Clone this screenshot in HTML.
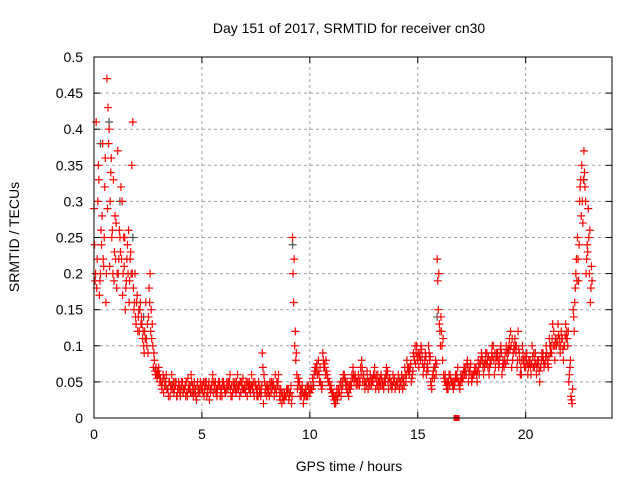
<!DOCTYPE html>
<html><head><meta charset="utf-8"><style>
body{margin:0;background:#fff}
svg text{font-family:"Liberation Sans",sans-serif;font-size:14px;fill:#000}
</style></head><body>
<svg id="chart" width="640" height="480" xmlns="http://www.w3.org/2000/svg">
<text x="349" y="33" text-anchor="middle">Day 151 of 2017, SRMTID for receiver cn30</text>
<text x="349" y="471" text-anchor="middle">GPS time / hours</text>
<text transform="translate(19,237) rotate(-90)" text-anchor="middle">SRMTID / TECUs</text>
<g id="grid"></g>
<g id="ticks"></g>
<g id="marks"></g>
<rect x="94" y="57" width="518" height="361" fill="none" stroke="#000" stroke-width="1"/>
</svg>
<script>
const xTicks=[0,5,10,15,20];
const yTicks=[0,0.05,0.1,0.15,0.2,0.25,0.3,0.35,0.4,0.45,0.5];
const yTickLabels=["0","0.05","0.1","0.15","0.2","0.25","0.3","0.35","0.4","0.45","0.5"];
const seriesA=[0.29,0.41,0.35,0.20,0.38,0.32,0.47,0.40,0.36,0.33,
0.22,0.37,0.25,0.30,0.21,0.19,0.26,0.23,0.41,0.20,
0.17,0.12,0.14,0.10,0.16,0.09,0.20,0.13,0.08,0.06,
0.07,0.05,0.06,0.045,0.04,0.05,0.06,0.035,0.05,0.04,
0.03,0.05,0.04,0.035,0.045,0.06,0.03,0.04,0.05,0.035,
0.04,0.03,0.05,0.045,0.035,0.06,0.04,0.03,0.05,0.04,
0.05,0.035,0.04,0.06,0.03,0.045,0.05,0.04,0.035,0.055,
0.04,0.03,0.05,0.06,0.035,0.045,0.03,0.04,0.09,0.05,
0.03,0.04,0.035,0.05,0.06,0.045,0.03,0.02,0.025,0.03,
0.04,0.035,0.25,0.10,0.06,0.045,0.03,0.02,0.04,0.03,
0.035,0.04,0.06,0.07,0.08,0.05,0.09,0.07,0.06,0.05,
0.04,0.03,0.02,0.03,0.045,0.05,0.06,0.04,0.03,0.05,
0.07,0.06,0.05,0.045,0.08,0.06,0.05,0.04,0.06,0.055,
0.07,0.05,0.04,0.06,0.045,0.05,0.065,0.055,0.04,0.05,
0.045,0.06,0.05,0.04,0.07,0.08,0.06,0.05,0.09,0.075,
0.08,0.09,0.085,0.07,0.06,0.1,0.05,0.06,0.07,0.22,
0.13,0.12,0.06,0.05,0.04,0.06,0.05,0.045,0.06,0.05,
0.06,0.055,0.07,0.08,0.065,0.05,0.06,0.07,0.08,0.075,
0.08,0.07,0.09,0.06,0.08,0.1,0.07,0.09,0.085,0.06,
0.07,0.1,0.09,0.12,0.08,0.11,0.07,0.09,0.06,0.08,
0.07,0.06,0.08,0.1,0.07,0.06,0.08,0.07,0.09,0.075,
0.08,0.11,0.09,0.12,0.1,0.13,0.09,0.11,0.1,0.12,
0.05,0.03,0.15,0.18,0.25,0.3,0.35,0.37,0.2,0.29,0.16];
const seriesB=[0.19,0.22,0.17,0.24,0.21,0.16,0.43,0.30,0.26,0.23,
0.18,0.22,0.32,0.20,0.15,0.24,0.19,0.35,0.15,0.13,
0.14,0.16,0.11,0.12,0.1,0.18,0.15,0.07,0.06,0.065,
0.05,0.04,0.055,0.06,0.03,0.045,0.04,0.05,0.03,0.045,
0.05,0.04,0.03,0.055,0.045,0.035,0.05,0.025,0.04,0.045,
0.035,0.05,0.04,0.025,0.045,0.05,0.035,0.045,0.03,0.05,
0.04,0.05,0.045,0.03,0.05,0.04,0.06,0.03,0.045,0.04,
0.05,0.045,0.035,0.04,0.05,0.03,0.045,0.035,0.02,0.04,
0.045,0.05,0.04,0.03,0.035,0.06,0.04,0.035,0.03,0.04,
0.03,0.02,0.16,0.08,0.05,0.03,0.045,0.035,0.03,0.04,
0.045,0.05,0.07,0.06,0.05,0.04,0.07,0.08,0.05,0.04,
0.03,0.02,0.04,0.035,0.03,0.06,0.05,0.035,0.045,0.06,
0.05,0.045,0.06,0.07,0.05,0.04,0.065,0.05,0.045,0.06,
0.04,0.06,0.055,0.045,0.05,0.07,0.04,0.045,0.06,0.04,
0.05,0.04,0.06,0.055,0.05,0.065,0.07,0.06,0.08,0.1,
0.07,0.1,0.06,0.09,0.075,0.08,0.04,0.07,0.06,0.15,
0.1,0.08,0.05,0.04,0.06,0.05,0.04,0.06,0.07,0.04,
0.05,0.07,0.06,0.05,0.075,0.06,0.07,0.05,0.06,0.09,
0.06,0.09,0.07,0.08,0.1,0.06,0.09,0.07,0.1,0.08,
0.09,0.08,0.11,0.07,0.1,0.09,0.12,0.06,0.1,0.07,
0.09,0.08,0.06,0.07,0.09,0.08,0.05,0.09,0.07,0.1,
0.07,0.09,0.13,0.08,0.11,0.1,0.12,0.08,0.13,0.1,
0.07,0.02,0.12,0.22,0.19,0.33,0.27,0.32,0.24,0.2,0.21];
const seriesC=[0.24,0.18,0.33,0.26,0.22,0.36,0.29,0.21,0.25,0.19,
0.27,0.2,0.23,0.17,0.25,0.22,0.16,0.2,0.18,0.14,
0.12,0.15,0.13,0.09,0.11,0.14,0.12,0.1,0.065,0.055,
0.06,0.045,0.035,0.05,0.04,0.03,0.045,0.04,0.03,0.05,
0.04,0.035,0.045,0.03,0.04,0.05,0.04,0.03,0.035,0.05,
0.045,0.04,0.03,0.05,0.04,0.035,0.05,0.04,0.045,0.03,
0.045,0.04,0.05,0.04,0.035,0.05,0.04,0.045,0.05,0.04,
0.035,0.05,0.04,0.045,0.03,0.04,0.05,0.03,0.07,0.035,
0.04,0.03,0.05,0.045,0.04,0.05,0.025,0.03,0.035,0.04,
0.025,0.045,0.2,0.12,0.04,0.05,0.04,0.03,0.035,0.045,
0.04,0.055,0.065,0.075,0.06,0.045,0.08,0.06,0.055,0.045,
0.035,0.025,0.03,0.04,0.05,0.045,0.055,0.05,0.04,0.045,
0.06,0.055,0.045,0.05,0.07,0.05,0.045,0.05,0.055,0.05,
0.055,0.045,0.05,0.055,0.04,0.06,0.05,0.05,0.045,0.055,
0.05,0.055,0.045,0.05,0.06,0.07,0.065,0.055,0.085,0.09,
0.09,0.08,0.075,0.08,0.07,0.09,0.045,0.065,0.08,0.19,
0.12,0.1,0.055,0.045,0.05,0.055,0.045,0.05,0.055,0.045,
0.055,0.065,0.065,0.07,0.07,0.055,0.065,0.06,0.07,0.08,
0.07,0.08,0.08,0.07,0.09,0.08,0.08,0.08,0.095,0.07,
0.08,0.09,0.1,0.1,0.09,0.1,0.08,0.08,0.08,0.075,
0.08,0.07,0.07,0.085,0.08,0.07,0.065,0.08,0.08,0.085,
0.075,0.1,0.11,0.1,0.1,0.115,0.1,0.095,0.115,0.11,
0.06,0.025,0.14,0.2,0.22,0.32,0.3,0.34,0.22,0.25,0.18];
const seriesD=[0.2,0.3,0.19,0.28,0.25,0.2,0.38,0.34,0.2,0.28,
0.2,0.26,0.22,0.25,0.18,0.2,0.22,0.2,0.16,0.16,
0.15,0.13,0.12,0.11,0.13,0.16,0.11,0.09,0.07,0.06,
0.055,0.05,0.045,0.04,0.05,0.04,0.05,0.045,0.04,0.035,
0.045,0.04,0.05,0.04,0.035,0.045,0.035,0.045,0.04,0.04,
0.05,0.045,0.035,0.04,0.05,0.045,0.04,0.05,0.04,0.045,
0.035,0.045,0.05,0.045,0.04,0.035,0.045,0.05,0.04,0.045,
0.045,0.04,0.045,0.05,0.045,0.04,0.035,0.045,0.06,0.045,
0.035,0.045,0.045,0.04,0.05,0.04,0.035,0.025,0.03,0.035,
0.035,0.03,0.22,0.09,0.055,0.04,0.035,0.03,0.045,0.035,
0.04,0.045,0.065,0.065,0.07,0.045,0.075,0.065,0.05,0.045,
0.035,0.03,0.025,0.035,0.04,0.055,0.045,0.045,0.04,0.055,
0.055,0.05,0.055,0.06,0.06,0.05,0.055,0.045,0.05,0.06,
0.06,0.05,0.045,0.05,0.055,0.06,0.055,0.05,0.05,0.045,
0.045,0.05,0.055,0.045,0.06,0.07,0.075,0.065,0.1,0.085,
0.085,0.095,0.07,0.085,0.065,0.085,0.055,0.055,0.075,0.2,
0.14,0.11,0.06,0.05,0.045,0.05,0.05,0.055,0.05,0.05,
0.06,0.06,0.075,0.06,0.06,0.06,0.065,0.065,0.075,0.085,
0.075,0.075,0.085,0.075,0.085,0.09,0.085,0.075,0.09,0.075,
0.075,0.095,0.095,0.11,0.095,0.1,0.095,0.07,0.09,0.085,
0.075,0.075,0.075,0.09,0.075,0.075,0.07,0.085,0.075,0.09,
0.085,0.1,0.1,0.11,0.105,0.11,0.11,0.1,0.11,0.12,
0.08,0.04,0.16,0.19,0.24,0.28,0.33,0.3,0.23,0.26,0.19];
const greyTimes=[0.3,0.7,1.2,1.8,2.3,9.2,15.9,22.7];
const greyValues=[0.38,0.41,0.3,0.25,0.14,0.24,0.14,0.33];
const squareTime=16.8, squareValue=0;

const NS="http://www.w3.org/2000/svg";
const X0=94,X1=612,Y0=418,Y1=57;
const xs=t=>X0+(t/24)*(X1-X0);
const ys=v=>Y0-(v/0.5)*(Y0-Y1);
const grid=document.getElementById('grid'),ticks=document.getElementById('ticks'),marks=document.getElementById('marks');
function mk(tag,attrs,parent){const e=document.createElementNS(NS,tag);for(const k in attrs)e.setAttribute(k,attrs[k]);parent.appendChild(e);return e;}
xTicks.forEach(t=>{const x=xs(t);
 if(t>0){const g=mk('line',{x1:x,x2:x,y1:Y0,y2:Y1,stroke:'#a0a0a0','stroke-dasharray':'3,3'},grid);
 
 }
 mk('line',{x1:x,x2:x,y1:Y0,y2:Y0-6,stroke:'#000'},ticks);
 mk('line',{x1:x,x2:x,y1:Y1,y2:Y1+6,stroke:'#000'},ticks);
 const l=mk('text',{x:x,y:Y0+21,'text-anchor':'middle'},ticks);l.textContent=t;
 
 
});
yTicks.forEach((v,i)=>{const y=ys(v);
 if(i>0&&i<yTicks.length-1){const g=mk('line',{x1:X0,x2:X1,y1:y,y2:y,stroke:'#a0a0a0','stroke-dasharray':'3,3'},grid);
 
 }
 mk('line',{x1:X0,x2:X0+6,y1:y,y2:y,stroke:'#000'},ticks);
 mk('line',{x1:X1,x2:X1-6,y1:y,y2:y,stroke:'#000'},ticks);
 const l=mk('text',{x:83,y:y+5,'text-anchor':'end'},ticks);l.textContent=yTickLabels[i];
 
 
});
function plus(t,v,color){const x=xs(t),y=ys(v);
 const p=mk('path',{d:`M${x-4},${y}H${x+4}M${x},${y-4}V${y+4}`,stroke:color,'stroke-width':1.2,fill:'none'},marks);
 
 }
greyTimes.forEach((t,i)=>plus(t,greyValues[i],'#555'));
seriesA.forEach((v,i)=>plus(i*0.1,v,'#ff0000'));
seriesB.forEach((v,i)=>plus(i*0.1+0.05,v,'#ff0000'));
seriesC.forEach((v,i)=>plus(i*0.1+0.025,v,'#ff0000'));
seriesD.forEach((v,i)=>plus(i*0.1+0.075,v,'#ff0000'));
const sq=mk('rect',{x:xs(squareTime)-3,y:ys(squareValue)-3,width:6,height:6,fill:'#ff0000'},marks);


</script>
</body></html>
